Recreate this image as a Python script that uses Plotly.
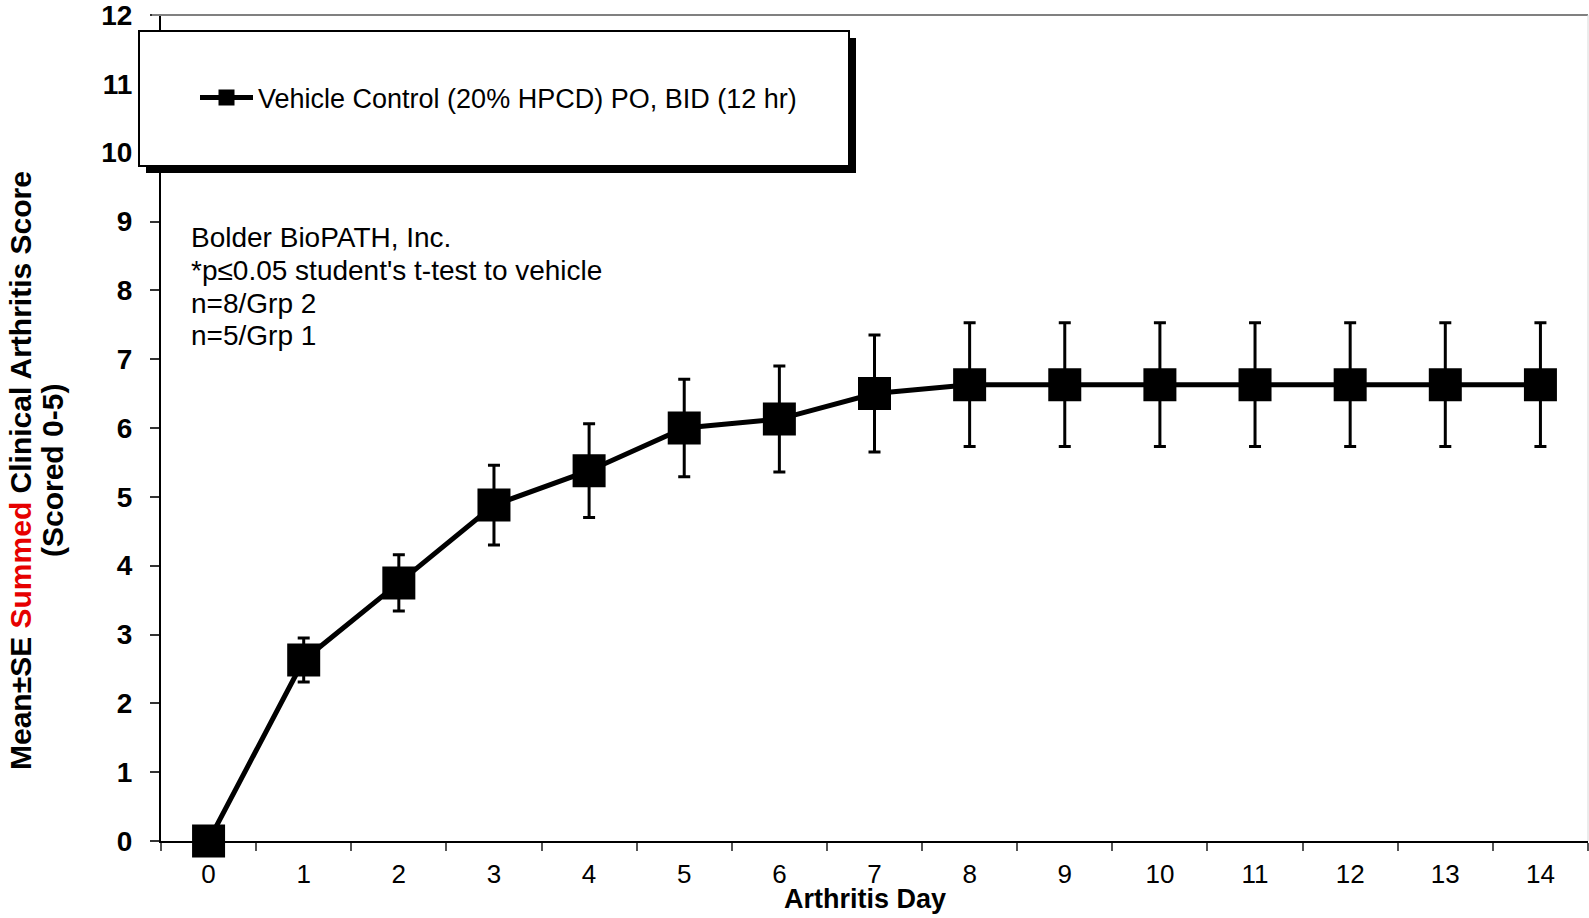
import plotly.graph_objects as go

# ---------------- data ----------------
days = ["0", "1", "2", "3", "4", "5", "6", "7", "8", "9", "10", "11", "12", "13", "14"]
vehicle_mean = [0.0, 2.63, 3.75, 4.88, 5.38, 6.00, 6.13, 6.50, 6.63, 6.63, 6.63, 6.63, 6.63, 6.63, 6.63]
vehicle_se = [0.0, 0.32, 0.41, 0.58, 0.68, 0.71, 0.77, 0.85, 0.90, 0.90, 0.90, 0.90, 0.90, 0.90, 0.90]
series_name = "Vehicle Control (20% HPCD) PO, BID (12 hr)"
y_ticks = list(range(0, 13))
notes = ["Bolder BioPATH, Inc.", "*p\u22640.05 student's t-test to vehicle", "n=8/Grp 2", "n=5/Grp 1"]

# ---------------- layout geometry ----------------
W, H = 1589, 918
L, R, T, B = 161, 1, 15, 77
PW, PH = W - L - R, H - T - B
FONT = "Liberation Sans, Arial, sans-serif"


def px2x(px):
    return (px - L) / PW


def py2y(py):
    return (H - B - py) / PH


fig = go.Figure()
fig.add_trace(go.Scatter(
    x=days, y=vehicle_mean, name=series_name,
    mode="lines+markers",
    line=dict(color="black", width=5),
    marker=dict(symbol="square", size=33, color="black"),
    error_y=dict(type="data", array=vehicle_se, visible=True,
                 color="black", thickness=3, width=6),
    cliponaxis=False,
    showlegend=True,
))

shapes = [
    # top & right frame lines
    dict(type="line", xref="paper", yref="paper", x0=px2x(152), x1=1, y0=1, y1=1,
         line=dict(color="#808080", width=2)),
    dict(type="line", xref="paper", yref="paper", x0=1, x1=1, y0=0, y1=1,
         line=dict(color="#d8d8d8", width=1)),
    # legend shadow + box
    dict(type="rect", xref="paper", yref="paper",
         x0=px2x(146), x1=px2x(856), y0=py2y(173), y1=py2y(38),
         fillcolor="black", line=dict(width=0)),
    dict(type="rect", xref="paper", yref="paper",
         x0=px2x(139), x1=px2x(849), y0=py2y(166), y1=py2y(31),
         fillcolor="white", line=dict(color="black", width=2)),
]

annotations = []
note_y = [237, 270, 303, 336]
for txt, yy in zip(notes, note_y):
    annotations.append(dict(text=txt, xref="paper", yref="paper", x=px2x(189), y=py2y(yy),
                            xanchor="left", yanchor="middle", showarrow=False,
                            font=dict(family=FONT, size=28, color="black")))

annotations.append(dict(
    text="Mean\u00b1SE <span style='color:#e60000'>Summed</span> Clinical Arthritis Score",
    xref="paper", yref="paper", x=px2x(20), y=py2y(471), textangle=-90,
    xanchor="center", yanchor="middle", showarrow=False,
    font=dict(family=FONT, size=30, color="black", weight="bold")))
annotations.append(dict(
    text="(Scored 0-5)",
    xref="paper", yref="paper", x=px2x(52), y=py2y(471), textangle=-90,
    xanchor="center", yanchor="middle", showarrow=False,
    font=dict(family=FONT, size=30, color="black", weight="bold")))
annotations.append(dict(
    text="Arthritis Day", xref="paper", yref="paper", x=px2x(865), y=py2y(899),
    xanchor="center", yanchor="middle", showarrow=False,
    font=dict(family=FONT, size=27, color="black", weight="bold")))

fig.update_layout(
    width=W, height=H,
    margin=dict(l=L, r=R, t=T, b=B, pad=0),
    paper_bgcolor="white", plot_bgcolor="white",
    font=dict(family=FONT, color="black"),
    shapes=shapes,
    annotations=annotations,
    legend=dict(x=px2x(195), y=py2y(98), xanchor="left", yanchor="middle",
                bgcolor="rgba(0,0,0,0)", borderwidth=0, itemwidth=53,
                font=dict(family=FONT, size=27, color="black")),
    xaxis=dict(type="category", range=[-0.5, 14.5], autorange=False,
               tickson="boundaries", ticks="outside", ticklen=8,
               tickcolor="#555555", tickwidth=1.5, showline=True, linecolor="black",
               linewidth=2, showgrid=False, zeroline=False, ticklabelstandoff=9,
               ticklabeloverflow="allow",
               tickfont=dict(family=FONT, size=26, color="black")),
    yaxis=dict(range=[0, 12], autorange=False, tickvals=y_ticks, ticks="outside", ticklen=9,
               tickcolor="#333333", tickwidth=1.5, showline=True, linecolor="black",
               linewidth=2, showgrid=False, zeroline=False, ticklabelstandoff=12,
               ticklabeloverflow="allow",
               tickfont=dict(family=FONT, size=28, color="black", weight="bold")),
)

fig.write_html("out.html", config={"displayModeBar": False},
               post_script="document.body.style.margin='0';document.body.style.overflow='hidden';")
